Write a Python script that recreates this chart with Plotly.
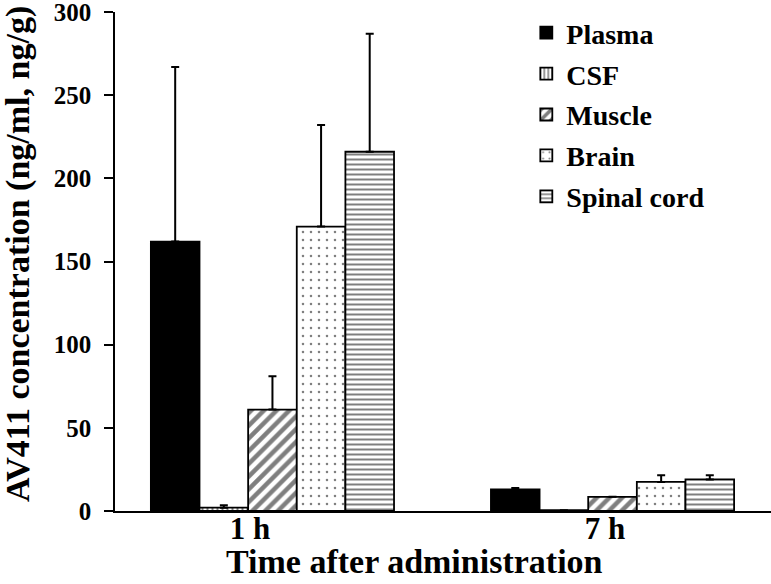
import plotly.graph_objects as go

categories = ["1 h", "7 h"]
series_names = ["Plasma", "CSF", "Muscle", "Brain", "Spinal cord"]
plasma = [162, 13]
plasma_err = [105, 0.8]
csf = [2, 0.5]
csf_err = [1.5, 0]
muscle = [61, 8.5]
muscle_err = [20, 0]
brain = [171, 17.5]
brain_err = [61, 4]
spinal = [216, 19]
spinal_err = [71, 2.5]
y_ticks = [0, 50, 100, 150, 200, 250, 300]

FONT = "Liberation Serif"
xpos = list(range(len(categories)))

styles = [
    dict(color="black", pattern=None),
    dict(color="white", pattern=dict(shape="|", size=5, solidity=0.4, fgcolor="black", bgcolor="white")),
    dict(color="white", pattern=dict(shape="/", size=9, solidity=0.5, fgcolor="black", bgcolor="white")),
    dict(color="white", pattern=dict(shape=".", size=8, solidity=0.08, fgcolor="black", bgcolor="white")),
    dict(color="white", pattern=dict(shape="-", size=5, solidity=0.4, fgcolor="black", bgcolor="white")),
]
values = [plasma, csf, muscle, brain, spinal]
errors = [plasma_err, csf_err, muscle_err, brain_err, spinal_err]

fig = go.Figure()
for name, vals, errs, st in zip(series_names, values, errors, styles):
    marker = dict(color=st["color"], line=dict(color="black", width=1.8))
    if st["pattern"]:
        marker["pattern"] = st["pattern"]
    fig.add_trace(go.Bar(
        name=name, x=xpos, y=vals, marker=marker, legendgroup=name,
        error_y=dict(type="data", symmetric=False, array=errs, arrayminus=[0] * len(errs),
                     color="black", thickness=2, width=4),
    ))

fig.update_layout(
    width=771, height=584,
    margin=dict(l=115, r=0, t=12, b=73, autoexpand=False),
    paper_bgcolor="white", plot_bgcolor="white",
    barmode="group", bargap=0.285, bargroupgap=0,
    font=dict(family=FONT, color="black", size=26, weight="bold"),
    showlegend=True,
    legend=dict(x=0.627, y=1.008, xanchor="left", yanchor="top",
                font=dict(family=FONT, size=28, weight="bold", color="black"),
                bgcolor="rgba(0,0,0,0)", itemwidth=30, tracegroupgap=1.5),
    xaxis=dict(range=[-0.463, 1.466], tickvals=[-0.066, 0.978], ticktext=categories,
               showline=True, linecolor="black", linewidth=2, ticks="", ticklen=0,
               showgrid=False, zeroline=False, automargin=False, ticklabelstandoff=-11,
               tickfont=dict(family=FONT, size=31, weight="bold", color="black")),
    yaxis=dict(range=[0, 300.01], tickvals=y_ticks, showline=True, linecolor="black", linewidth=1.5,
               ticks="outside", ticklen=9, tickwidth=1.5, tickcolor="black",
               showgrid=False, zeroline=False, ticklabelstandoff=8, automargin=False,
               ticklabeloverflow="allow",
               tickfont=dict(family=FONT, size=25, weight="bold", color="black")),
    annotations=[
        dict(text="Time after administration", xref="paper", yref="paper",
             x=0.457, y=-0.102, xanchor="center", yanchor="middle", showarrow=False,
             font=dict(family=FONT, size=34, weight="bold")),
        dict(text="AV411 concentration (ng/ml, ng/g)", xref="paper", yref="paper",
             x=-0.148, y=0.515, xanchor="center", yanchor="middle", showarrow=False,
             textangle=-90, font=dict(family=FONT, size=34, weight="bold")),
    ],
)

fig.write_html("out.html", config={"displayModeBar": False},
               post_script="document.body.style.margin='0';")
